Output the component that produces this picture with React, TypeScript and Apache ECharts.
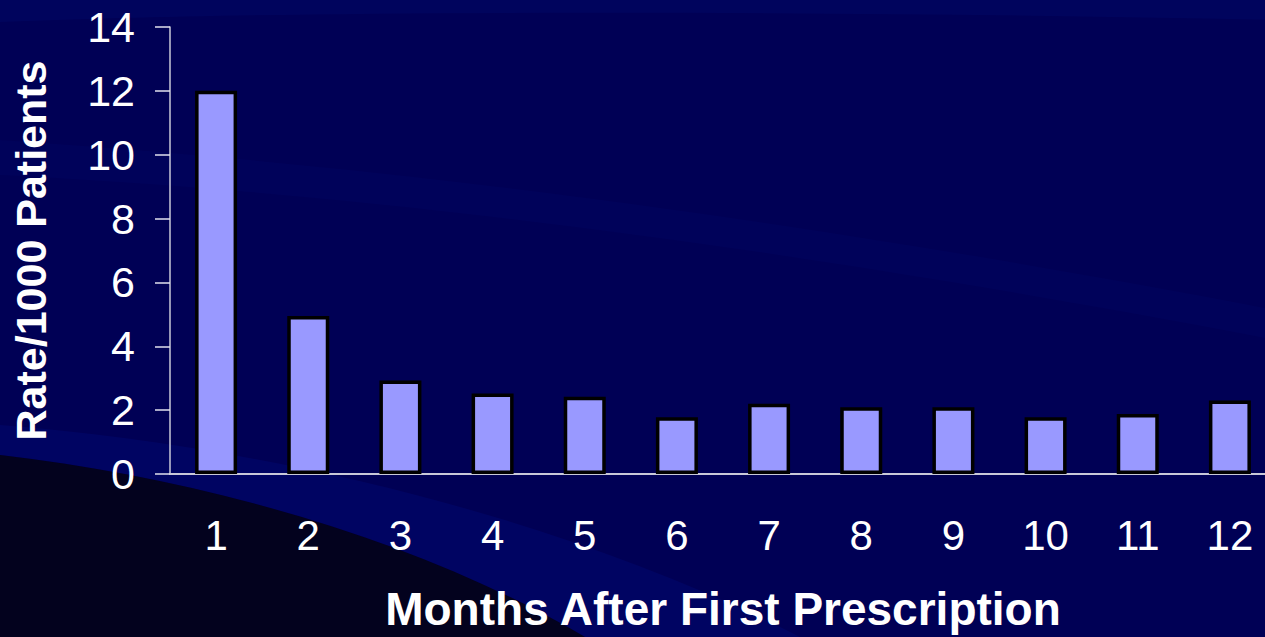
import React, { useEffect, useRef } from "react";
import * as echarts from "echarts";

const months = ["1", "2", "3", "4", "5", "6", "7", "8", "9", "10", "11", "12"];
const rates = [12, 4.95, 2.93, 2.52, 2.42, 1.78, 2.2, 2.09, 2.09, 1.78, 1.88, 2.3];
const yTitle = "Rate/1000 Patients";
const xTitle = "Months After First Prescription";

echarts.graphic.registerShape(
  "darkCorner",
  echarts.graphic.extendPath("M0,455 C200,478 420,540 585,637 L0,637 Z", {})
);
echarts.graphic.registerShape(
  "lowBand",
  echarts.graphic.extendPath("M0,425 C260,445 560,515 800,637 L585,637 C420,540 200,478 0,455 Z", {})
);
echarts.graphic.registerShape(
  "midBand",
  echarts.graphic.extendPath("M0,140 C300,160 700,200 1276,310 L1276,340 C700,230 300,190 0,175 Z", {})
);
echarts.graphic.registerShape(
  "topBand",
  echarts.graphic.extendPath("M0,0 L1276,0 L1276,20 C800,10 300,10 0,22 Z", {})
);

export default function App() {
  const ref = useRef<HTMLDivElement>(null);
  useEffect(() => {
    document.body.style.margin = "0";
    document.body.style.overflow = "hidden";
    const chart = echarts.init(ref.current!, null, { renderer: "svg" });
    const font = "'Liberation Sans', Arial, sans-serif";
    chart.setOption({
      animation: false,
      backgroundColor: "#000055",
      graphic: [
        { type: "topBand", x: 0, y: 0, z: -100, silent: true, style: { fill: "#000866", opacity: 0.5 } },
        { type: "midBand", x: 0, y: 0, z: -100, silent: true, style: { fill: "#000866", opacity: 0.3 } },
        { type: "lowBand", x: 0, y: 0, z: -100, silent: true, style: { fill: "#000a74", opacity: 0.42 } },
        { type: "darkCorner", x: 0, y: 0, z: -100, silent: true, style: { fill: "#03021e" } },
      ],
      grid: { left: 170, top: 27, bottom: 163, right: 0, containLabel: false },
      xAxis: {
        type: "category",
        data: months,
        axisTick: { show: false },
        axisLine: { show: true, lineStyle: { color: "#c8c8d8", width: 2 } },
        axisLabel: { color: "#ffffff", fontSize: 42, fontFamily: font, margin: 40 },
        name: xTitle,
        nameLocation: "middle",
        nameGap: 112,
        nameTextStyle: { color: "#ffffff", fontSize: 46, fontWeight: "bold", fontFamily: font },
        splitLine: { show: false },
      },
      yAxis: {
        type: "value",
        min: 0,
        max: 14,
        interval: 2,
        axisLine: { show: true, lineStyle: { color: "#c8c8d8", width: 1.5 } },
        axisTick: { show: true, length: 15, lineStyle: { color: "#e0e0ee", width: 1.5 } },
        axisLabel: { color: "#ffffff", fontSize: 43, fontFamily: font, margin: 35 },
        splitLine: { show: false },
        name: yTitle,
        nameLocation: "middle",
        nameGap: 118,
        nameTextStyle: { color: "#ffffff", fontSize: 43, fontWeight: "bold", fontFamily: font },
      },
      series: [
        {
          type: "bar",
          data: rates,
          barWidth: 42,
          itemStyle: { color: "#9999ff", borderColor: "#000000", borderWidth: 3.5 },
        },
      ],
    });
    return () => chart.dispose();
  }, []);
  return (
    <div style={{ position: "absolute", left: 0, top: 0, width: 1265, height: 637, overflow: "hidden" }}>
      <div ref={ref} style={{ position: "absolute", left: 0, top: 0, width: 1276, height: 637 }} />
    </div>
  );
}
